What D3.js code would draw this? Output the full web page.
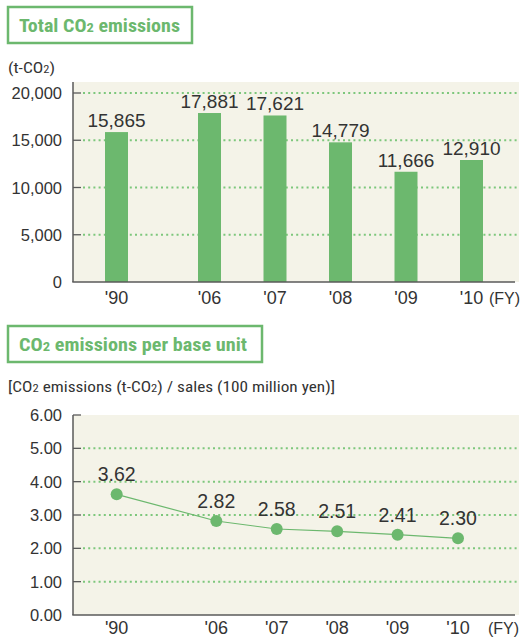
<!DOCTYPE html>
<html>
<head>
<meta charset="utf-8">
<script src="https://cdn.jsdelivr.net/npm/d3@7"></script>
<style>
  body { margin: 0; background: #fff; }
  svg { display: block; }
</style>
</head>
<body>
<div id="chart"></div>
<script>
// chart data
const years = ["'90", "'06", "'07", "'08", "'09", "'10"]
const emissions = [15865, 17881, 17621, 14779, 11666, 12910]
const emissionTicks = [0, 5000, 10000, 15000, 20000]
const perUnit = [3.62, 2.82, 2.58, 2.51, 2.41, 2.30]
const perUnitTicks = [0, 1, 2, 3, 4, 5, 6]

const green = "#6cb86e"
const dotGreen = "#7dc77c"
const bg = "#f4f3e8"
const axisGray = "#5a5a5a"
const textColor = "#333"
const narrow = "'Roboto Condensed', 'Liberation Sans Narrow', 'DejaVu Sans Condensed', Roboto, sans-serif"
const sans = "'Liberation Sans', Arial, Helvetica, sans-serif"

const svg = d3.select("#chart").append("svg")
    .attr("width", 520)
    .attr("height", 637)

function title_box(x, y, w, h, parts, baseline, len){
    svg.append("rect")
        .attr("x", x).attr("y", y).attr("width", w).attr("height", h)
        .attr("fill", "none").attr("stroke", green).attr("stroke-width", 2.5)
    const t = svg.append("text")
        .attr("x", x + 11).attr("y", baseline)
        .attr("textLength", len).attr("lengthAdjust", "spacingAndGlyphs")
        .style("font-family", narrow).style("font-weight", "bold")
        .style("font-size", "18px").style("fill", green)
    parts.forEach(p => t.append("tspan").text(p[0]).style("font-size", p[1]))
}

// index -> slot, first year sits further left
function slot_scale(gap, x06, x10){
    const lin = d3.scaleLinear().domain([0, 4]).range([x06, x10])
    return i => i === 0 ? lin(-gap) : lin(i - 1)
}

function y_grid(g, y, ticks, x0, x1, fmt, skipTop){
    ticks.forEach((t, i) => {
        if (t !== 0 && !(skipTop && i === ticks.length - 1)) {
            g.append("line")
                .attr("x1", x0 + 10).attr("x2", x1)
                .attr("y1", y(t)).attr("y2", y(t))
                .attr("stroke", dotGreen).attr("stroke-width", 2)
                .attr("stroke-dasharray", "2 3.2")
        }
        if (t !== 0) {
            g.append("line")
                .attr("x1", x0).attr("x2", x0 + 8)
                .attr("y1", y(t)).attr("y2", y(t))
                .attr("stroke", axisGray).attr("stroke-width", 1.3)
        }
        g.append("text")
            .attr("x", 62).attr("y", y(t) + 6)
            .attr("text-anchor", "end")
            .text(fmt(t))
            .style("font-family", sans).style("font-size", "16.5px").style("fill", textColor)
    })
}

// ---------- top chart: total emissions ----------
title_box(8, 7, 184, 36, [["Total CO", "18px"], ["2", "13px"], [" emissions", "18px"]], 32, 161)

svg.append("text").attr("x", 8).attr("y", 73)
    .attr("textLength", 47).attr("lengthAdjust", "spacingAndGlyphs")
    .style("font-family", narrow).style("font-size", "14px").style("fill", textColor)
    .call(t => {
        t.append("tspan").text("(t-CO")
        t.append("tspan").text("2").style("font-size", "10px")
        t.append("tspan").text(")")
    })

const topG = svg.append("g")
const y1 = d3.scaleLinear().domain([0, 20000]).range([282, 93])
const x1 = slot_scale(93 / 65.5, 209.5, 471.5)

topG.append("rect").attr("x", 73).attr("y", 82).attr("width", 446).attr("height", 200).attr("fill", bg)
y_grid(topG, y1, emissionTicks, 73, 517, d3.format(","), false)

topG.selectAll(".bar").data(emissions).join("rect")
    .attr("class", "bar")
    .attr("x", (d, i) => x1(i) - 11.5)
    .attr("width", 23)
    .attr("y", d => y1(d))
    .attr("height", d => y1(0) - y1(d))
    .attr("fill", green)

topG.selectAll(".val").data(emissions).join("text")
    .attr("class", "val")
    .attr("x", (d, i) => x1(i))
    .attr("y", d => y1(d) - 5)
    .attr("text-anchor", "middle")
    .text(d => d3.format(",")(d))
    .style("font-family", sans).style("font-size", "19px").style("fill", textColor)

topG.append("line").attr("x1", 73).attr("x2", 73).attr("y1", 82).attr("y2", 282)
    .attr("stroke", axisGray).attr("stroke-width", 1.5)
topG.append("line").attr("x1", 72.3).attr("x2", 515).attr("y1", 282).attr("y2", 282)
    .attr("stroke", axisGray).attr("stroke-width", 1.5)

topG.selectAll(".xl").data(years).join("text")
    .attr("class", "xl")
    .attr("x", (d, i) => x1(i))
    .attr("y", 304)
    .attr("text-anchor", "middle")
    .text(d => d)
    .style("font-family", sans).style("font-size", "18px").style("fill", textColor)
topG.append("text").attr("x", 489).attr("y", 304).text("(FY)")
    .style("font-family", sans).style("font-size", "16px").style("fill", textColor)

// ---------- bottom chart: per base unit ----------
title_box(8, 326, 254, 36, [["CO", "18px"], ["2", "13px"], [" emissions per base unit", "18px"]], 351, 228)

svg.append("text").attr("x", 8).attr("y", 392)
    .attr("textLength", 327).attr("lengthAdjust", "spacingAndGlyphs")
    .style("font-family", narrow).style("font-size", "15px").style("fill", textColor)
    .call(t => {
        t.append("tspan").text("[CO")
        t.append("tspan").text("2").style("font-size", "11px")
        t.append("tspan").text(" emissions (t-CO")
        t.append("tspan").text("2").style("font-size", "11px")
        t.append("tspan").text(") / sales (100 million yen)]")
    })

const botG = svg.append("g")
const y2 = d3.scaleLinear().domain([0, 6]).range([615, 415])
const x2 = slot_scale(99.6 / 60.4, 216.3, 458)

botG.append("rect").attr("x", 73).attr("y", 415).attr("width", 446).attr("height", 200).attr("fill", bg)
y_grid(botG, y2, perUnitTicks, 73, 517, d3.format(".2f"), true)

botG.append("path")
    .datum(perUnit)
    .attr("d", d3.line().x((d, i) => x2(i)).y(d => y2(d)))
    .attr("fill", "none").attr("stroke", green).attr("stroke-width", 1.2)

botG.selectAll(".pt").data(perUnit).join("circle")
    .attr("class", "pt")
    .attr("cx", (d, i) => x2(i))
    .attr("cy", d => y2(d))
    .attr("r", 6)
    .attr("fill", green)

botG.selectAll(".val").data(perUnit).join("text")
    .attr("class", "val")
    .attr("x", (d, i) => x2(i))
    .attr("y", d => y2(d) - 13)
    .attr("text-anchor", "middle")
    .text(d => d3.format(".2f")(d))
    .style("font-family", sans).style("font-size", "19.5px").style("fill", textColor)

botG.append("line").attr("x1", 73).attr("x2", 73).attr("y1", 415).attr("y2", 615)
    .attr("stroke", axisGray).attr("stroke-width", 1.5)
botG.append("line").attr("x1", 72.3).attr("x2", 515).attr("y1", 615).attr("y2", 615)
    .attr("stroke", axisGray).attr("stroke-width", 1.5)

botG.selectAll(".xl").data(years).join("text")
    .attr("class", "xl")
    .attr("x", (d, i) => x2(i))
    .attr("y", 634)
    .attr("text-anchor", "middle")
    .text(d => d)
    .style("font-family", sans).style("font-size", "18px").style("fill", textColor)
botG.append("text").attr("x", 488).attr("y", 634).text("(FY)")
    .style("font-family", sans).style("font-size", "16px").style("fill", textColor)
</script>
</body>
</html>
